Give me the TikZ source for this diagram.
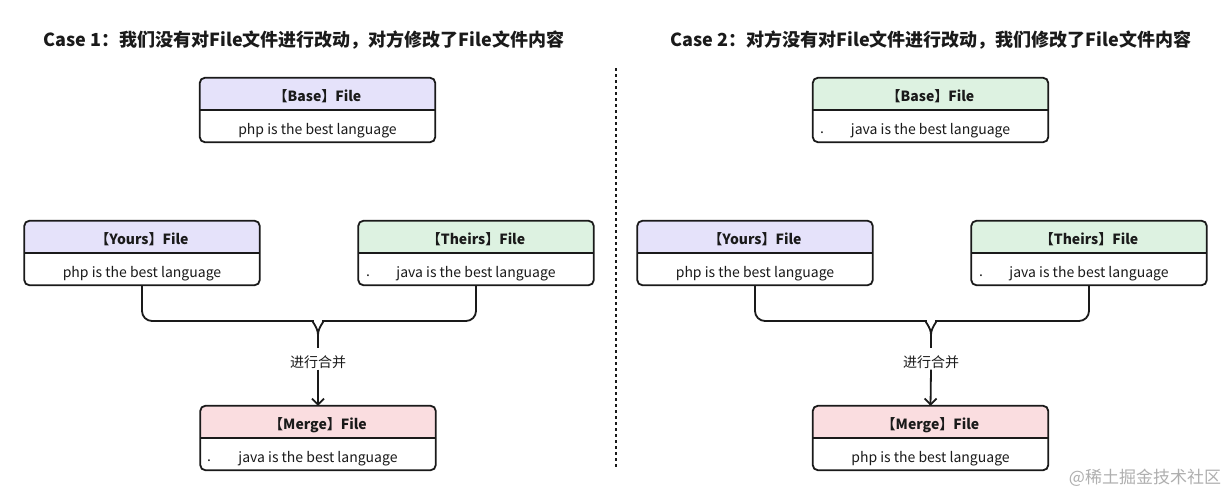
\documentclass[tikz,border=0pt]{standalone}
\usepackage{fontspec}
\setmainfont{Noto Sans CJK SC}
\usetikzlibrary{arrows.meta}
\pgfdeclarelayer{bg}
\pgfsetlayers{bg,main}
\definecolor{hpurple}{RGB}{229,226,250}
\definecolor{hgreen}{RGB}{221,242,225}
\definecolor{hpink}{RGB}{250,221,224}
\definecolor{ink}{RGB}{26,26,26}
\definecolor{wm}{RGB}{175,175,175}
\tikzset{
  hdr/.style={minimum width=235pt, minimum height=32pt, inner sep=0pt, text=ink,
    text height=14.6pt, text depth=0pt,
    font=\bfseries\fontsize{14}{16}\selectfont},
  bodytext/.style={minimum width=235pt, minimum height=32pt, inner sep=0pt, text=ink,
    text height=17.6pt, text depth=0pt,
    font=\fontsize{14}{16}\selectfont},
  dotmark/.style={inner sep=0pt, text=ink, font=\fontsize{14}{16}\selectfont},
  cardline/.style={draw=ink, line width=1.8pt, rounded corners=5pt},
  divider/.style={draw=ink, line width=1.6pt},
  conn/.style={draw=ink, line width=1.8pt, rounded corners=10pt},
  stem/.style={draw=ink, line width=1.8pt},
  arr/.style={draw=ink, line width=1.8pt, -{Straight Barb[length=6pt,width=12pt]}},
  lbl/.style={inner sep=1pt, text=ink, font=\fontsize{14}{16}\selectfont},
  ttl/.style={inner sep=0pt, text=ink, font=\bfseries\fontsize{18}{20}\selectfont},
}
\newcommand\filecard[6]{%
  \node[hdr] (#1h) at (#2,#3+16) {#5};
  \node[bodytext] (#1b) at (#2,#3+48) {#6};
  \begin{pgfonlayer}{bg}
    \begin{scope}
      \clip[rounded corners=5pt] (#1h.north west) rectangle (#1b.south east);
      \fill[#4] (#1h.north west) rectangle (#1h.south east);
    \end{scope}
  \end{pgfonlayer}
  \draw[cardline] (#1h.north west) rectangle (#1b.south east);
  \draw[divider] (#1h.south west) -- (#1h.south east);
}
\begin{document}
\begin{tikzpicture}[x=1pt,y=-1pt]
\begin{pgfonlayer}{bg}
\fill[white] (0,0) rectangle (1230,495);
\end{pgfonlayer}
\useasboundingbox (0,0) rectangle (1230,495);

% titles
\node[ttl] (t1) at (304,40) {Case 1：我们没有对File文件进行改动，对方修改了File文件内容};
\node[ttl] (t2) at (931,40) {Case 2：对方没有对File文件进行改动，我们修改了File文件内容};

% divider
\coordinate (d1) at (616,68);
\coordinate (d2) at (616,468);
\draw[ink, line width=2pt, dash pattern=on 3pt off 3pt] (d1) -- (d2);

% ---------- Case 1 ----------
\filecard{ab}{317.5}{78}{hpurple}{【Base】File}{php is the best language}
\filecard{ay}{142}{221}{hpurple}{【Yours】File}{php is the best language}
\filecard{at}{476}{221}{hgreen}{【Theirs】File}{java is the best language}
\filecard{am}{318}{406}{hpink}{【Merge】File}{java is the best language}
\node[dotmark] (atd) at (368,276) {.};
\node[dotmark] (amd) at (209,461) {.};

\coordinate (aj) at (318,335);
\coordinate (ae) at (318,348);
\draw[conn] (ayb.south) -- (142,321) -- (303,321) to[out=0,in=90] (aj);
\draw[conn] (atb.south) -- (476,321) -- (333,321) to[out=180,in=90] (aj);
\draw[stem] (aj) -- (ae);
\node[lbl] (al) at (318,362) {进行合并};
\draw[arr] (al.south) -- (amh.north);

% ---------- Case 2 ----------
\filecard{bb}{930.5}{78}{hgreen}{【Base】File}{java is the best language}
\filecard{by}{755}{221}{hpurple}{【Yours】File}{php is the best language}
\filecard{bt}{1089}{221}{hgreen}{【Theirs】File}{java is the best language}
\filecard{bm}{930.5}{406}{hpink}{【Merge】File}{php is the best language}
\node[dotmark] (bbd) at (822,133) {.};
\node[dotmark] (btd) at (981,276) {.};

\coordinate (bj) at (931,335);
\coordinate (be) at (931,348);
\draw[conn] (byb.south) -- (755,321) -- (916,321) to[out=0,in=90] (bj);
\draw[conn] (btb.south) -- (1089,321) -- (946,321) to[out=180,in=90] (bj);
\draw[stem] (bj) -- (be);
\node[lbl] (bl) at (931,362) {进行合并};
\draw[arr] (bl.south) -- (bmh.north);

% watermark
\node[inner sep=0pt, text=wm, font=\fontsize{17}{19}\selectfont] (wmk) at (1145,478) {@稀土掘金技术社区};
\end{tikzpicture}
\end{document}
